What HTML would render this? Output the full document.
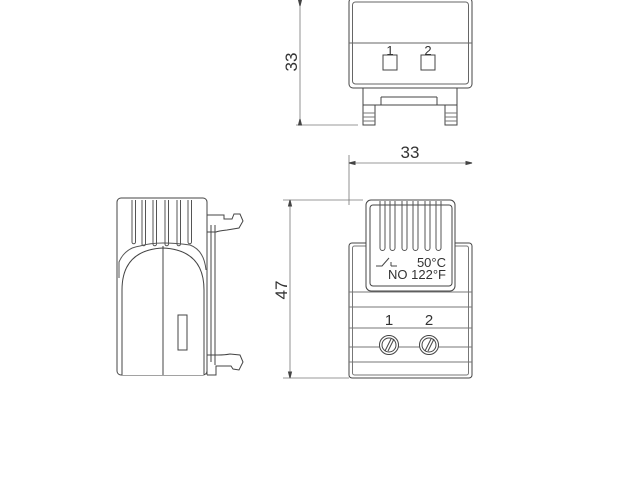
<!DOCTYPE html>
<html><head><meta charset="utf-8"><style>
html,body{margin:0;padding:0;background:#fff;width:640px;height:480px;overflow:hidden}
svg{display:block}
text{font-family:"Liberation Sans",sans-serif;fill:#333}
</style></head><body>
<svg width="640" height="480" viewBox="0 0 640 480" fill="none" stroke="#444" stroke-width="1">
<!-- TOP VIEW -->
<g>
<rect x="349" y="-2" width="123" height="90" rx="4"/>
<rect x="352.5" y="2" width="116" height="82" rx="3" stroke="#666"/>
<line x1="349" y1="43" x2="472" y2="43" stroke="#666"/>
<rect x="383" y="55" width="14" height="15"/>
<rect x="421" y="55" width="14" height="15"/>
<text x="390" y="55" font-size="13" text-anchor="middle" stroke="none">1</text>
<text x="428" y="55" font-size="13" text-anchor="middle" stroke="none">2</text>
<rect x="363" y="88" width="94" height="17"/>
<line x1="381" y1="97" x2="437" y2="97"/>
<line x1="381" y1="97" x2="381" y2="105"/><line x1="437" y1="97" x2="437" y2="105"/>
<path d="M363 105 V125 H375 V105"/><path d="M445 105 V125 H457 V105"/>
<path d="M363 113 H375 M363 117 H375 M363 121 H375 M445 113 H457 M445 117 H457 M445 121 H457" stroke="#777"/>
<line x1="300" y1="0" x2="300" y2="125" stroke="#777" stroke-width="0.8"/>
<line x1="296" y1="125" x2="358" y2="125" stroke="#777" stroke-width="0.8"/>
<path d="M300 6 l-1.5 -6 h3z M300 119 l-1.5 6 h3z" fill="#444"/>
<text transform="translate(297,62) rotate(-90)" font-size="17" text-anchor="middle" stroke="none">33</text>
</g>
<!-- FRONT VIEW -->
<g>
<line x1="349" y1="155" x2="349" y2="205" stroke="#777" stroke-width="0.8"/>
<line x1="349" y1="163" x2="472" y2="163" stroke="#777" stroke-width="0.8"/>
<path d="M349 163 l6 -1.5 v3z M472 163 l-6 -1.5 v3z" fill="#444"/>
<text x="410" y="158" font-size="17" text-anchor="middle" stroke="none">33</text>
<rect x="349" y="243" width="123" height="135" rx="3"/>
<rect x="352.5" y="246" width="116" height="129" rx="2" stroke="#777"/>
<path d="M349 292 H472 M349 307 H472 M349 328 H472 M349 347 H472 M349 362 H472" stroke="#777"/>
<rect x="366" y="200" width="89" height="91" rx="5" fill="#fff"/>
<rect x="370" y="205" width="82" height="81" rx="3"/>
<g stroke="#555">
<path d="M380 201 V248 a2.5 2.5 0 0 0 5 0 V201 M390 201 V248 a2.5 2.5 0 0 0 5 0 V201 M402 201 V248 a2.5 2.5 0 0 0 5 0 V201 M413 201 V248 a2.5 2.5 0 0 0 5 0 V201 M425 201 V248 a2.5 2.5 0 0 0 5 0 V201 M436 201 V248 a2.5 2.5 0 0 0 5 0 V201"/>
</g>
<path d="M376 266 h6 l7 -8 M391 266 v-4 M391 266 h6"/>
<text x="446" y="267" font-size="13" text-anchor="end" stroke="none">50°C</text>
<text x="446" y="279" font-size="13" text-anchor="end" stroke="none">NO 122°F</text>
<text x="389" y="325" font-size="15" text-anchor="middle" stroke="none">1</text>
<text x="429" y="325" font-size="15" text-anchor="middle" stroke="none">2</text>
<circle cx="389" cy="345" r="9.5" fill="#fff"/><circle cx="389" cy="345" r="7"/>
<path d="M385 351 l6 -12 M388 351 l6 -12"/>
<circle cx="429" cy="345" r="9.5" fill="#fff"/><circle cx="429" cy="345" r="7"/>
<path d="M425 351 l6 -12 M428 351 l6 -12"/>
<line x1="290" y1="200" x2="290" y2="378" stroke="#777" stroke-width="0.8"/>
<line x1="283" y1="200" x2="363" y2="200" stroke="#777" stroke-width="0.8"/>
<line x1="283" y1="378" x2="349" y2="378" stroke="#777" stroke-width="0.8"/>
<path d="M290 200 l-1.5 6 h3z M290 378 l-1.5 -6 h3z" fill="#444"/>
<text transform="translate(287,290) rotate(-90)" font-size="17" text-anchor="middle" stroke="none">47</text>
</g>
<!-- SIDE VIEW -->
<g>
<rect x="117" y="198" width="90" height="177" rx="4"/>
<path d="M132 200 V242 a1.7 1.7 0 0 0 3.5 0 V200 M142 200 V244 a1.7 1.7 0 0 0 3.5 0 V200 M153 200 V244 a1.7 1.7 0 0 0 3.5 0 V200 M165 200 V244 a1.7 1.7 0 0 0 3.5 0 V200 M177 200 V244 a1.7 1.7 0 0 0 3.5 0 V200 M188 200 V242 a1.7 1.7 0 0 0 3.5 0 V200" stroke="#555"/>
<path d="M119 278 V262 Q125 248 140 246 Q150 243 163 243 Q176 243 190 245 Q204 250 206 270" stroke="#555"/>
<path d="M122 375 V290 Q122 250 163 248 Q204 250 204 290 V375" fill="#fff"/>
<line x1="163" y1="246" x2="163" y2="375"/>
<rect x="178" y="315" width="9" height="35"/>
<path d="M207 213 V375 M215 225 V365 M211 225 V362"/>
<path d="M207 215 H224 V219 H232 L234 214 H240 L243 221 L239 228 L227 230 Q218 231 216 232 H207"/>
<path d="M207 355 H218 Q225 355 230 354 L240 355 L243 362 L239 370 L233 369 L231 366 H216 V375 H207"/>
</g>
</svg>
</body></html>
